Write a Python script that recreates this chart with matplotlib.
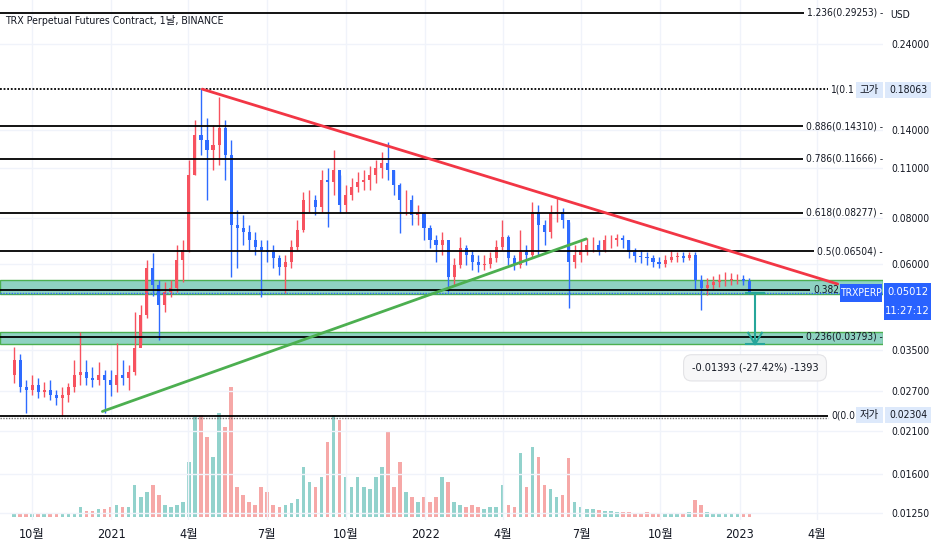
import numpy as np
import pandas as pd
import matplotlib
matplotlib.use('Agg')
import matplotlib.pyplot as plt
import matplotlib.dates as mdates
from matplotlib.patches import Rectangle
from matplotlib.ticker import FixedLocator, NullLocator

plt.rcParams['font.family'] = ['DejaVu Sans', 'Noto Sans CJK KR']
plt.rcParams['font.stretch'] = 'condensed'

# weekly candles (open = previous close)
week_start = pd.date_range('2020-09-07', periods=123, freq='7D')
first_open = 0.0298
close = [0.0328, 0.0277, 0.0271, 0.0280, 0.0268, 0.0271, 0.0263, 0.0258, 0.0263, 0.0276,
         0.0298, 0.0304, 0.0293, 0.0289, 0.0298, 0.0289, 0.0280, 0.0298, 0.0293, 0.0304,
         0.0354, 0.0435, 0.0584, 0.0526, 0.0463, 0.0503, 0.0516, 0.0615, 0.0655, 0.1051,
         0.1353, 0.1311, 0.1231, 0.1271, 0.1414, 0.1193, 0.0768, 0.0754, 0.0734, 0.0698,
         0.0668, 0.0655, 0.0647, 0.0623, 0.0588, 0.0607, 0.0668, 0.0743, 0.0898, 0.0898,
         0.0859, 0.1019, 0.1006, 0.1085, 0.0870, 0.0927, 0.0975, 0.1006, 0.1019, 0.1051,
         0.1099, 0.1134, 0.1085, 0.0987, 0.0898, 0.0898, 0.0817, 0.0828, 0.0754, 0.0698,
         0.0677, 0.0698, 0.0553, 0.0596, 0.0664, 0.0635, 0.0607, 0.0596, 0.0599, 0.0623,
         0.0668, 0.0712, 0.0623, 0.0596, 0.0647, 0.0635, 0.0833, 0.0768, 0.0734, 0.0828,
         0.0833, 0.0792, 0.0607, 0.0635, 0.0655, 0.0677, 0.0677, 0.0655, 0.0698, 0.0698,
         0.0707, 0.0698, 0.0647, 0.0631, 0.0627, 0.0623, 0.0607, 0.0599, 0.0615, 0.0627,
         0.0631, 0.0623, 0.0635, 0.0542, 0.0516, 0.0526, 0.0536, 0.0542, 0.0542, 0.0546,
         0.0546, 0.0539, 0.05012]
high = [0.0356, 0.0340, 0.0289, 0.0298, 0.0293, 0.0286, 0.0289, 0.0271, 0.0276, 0.0284,
        0.0328, 0.0391, 0.0328, 0.0314, 0.0324, 0.0308, 0.0308, 0.0365, 0.0328, 0.0318,
        0.0443, 0.0463, 0.0615, 0.0643, 0.0542, 0.0536, 0.0542, 0.0677, 0.0698, 0.1156,
        0.1487, 0.18063, 0.1507, 0.1441, 0.1716, 0.1487, 0.1311, 0.0843, 0.0817, 0.0768,
        0.0734, 0.0698, 0.0698, 0.0677, 0.0635, 0.0635, 0.0698, 0.0792, 0.0944, 0.0956,
        0.0927, 0.1085, 0.1099, 0.1231, 0.1051, 0.0987, 0.1032, 0.1071, 0.1085, 0.1113,
        0.1156, 0.1216, 0.1295, 0.1085, 0.1000, 0.0956, 0.0927, 0.0870, 0.0833, 0.0768,
        0.0721, 0.0734, 0.0698, 0.0623, 0.0712, 0.0677, 0.0655, 0.0635, 0.0635, 0.0647,
        0.0698, 0.0792, 0.0721, 0.0635, 0.0743, 0.0677, 0.0887, 0.0870, 0.0792, 0.0870,
        0.0915, 0.0854, 0.0782, 0.0677, 0.0698, 0.0707, 0.0712, 0.0698, 0.0721, 0.0721,
        0.0725, 0.0721, 0.0698, 0.0664, 0.0655, 0.0647, 0.0635, 0.0627, 0.0635, 0.0655,
        0.0647, 0.0647, 0.0647, 0.0647, 0.0560, 0.0549, 0.0556, 0.0563, 0.0570, 0.0567,
        0.0563, 0.0560, 0.0549]
low = [0.0284, 0.0268, 0.0235, 0.0263, 0.0258, 0.0260, 0.0255, 0.0247, 0.0230, 0.0252,
       0.0268, 0.0280, 0.0280, 0.0276, 0.0280, 0.0235, 0.0262, 0.0268, 0.0280, 0.0271,
       0.0298, 0.0361, 0.0426, 0.0491, 0.0372, 0.0443, 0.0488, 0.0503, 0.0536, 0.0647,
       0.1051, 0.1193, 0.0898, 0.1085, 0.1120, 0.1019, 0.0553, 0.0584, 0.0677, 0.0655,
       0.0635, 0.0488, 0.0607, 0.0584, 0.0560, 0.0500, 0.0584, 0.0655, 0.0734, 0.0833,
       0.0817, 0.0833, 0.0759, 0.0927, 0.0828, 0.0833, 0.0898, 0.0944, 0.0956, 0.0956,
       0.1000, 0.1032, 0.1019, 0.0927, 0.0730, 0.0817, 0.0768, 0.0768, 0.0698, 0.0664,
       0.0607, 0.0635, 0.0503, 0.0526, 0.0584, 0.0596, 0.0578, 0.0570, 0.0578, 0.0584,
       0.0607, 0.0655, 0.0596, 0.0578, 0.0584, 0.0596, 0.0623, 0.0635, 0.0677, 0.0707,
       0.0782, 0.0754, 0.0454, 0.0584, 0.0607, 0.0635, 0.0647, 0.0635, 0.0647, 0.0664,
       0.0672, 0.0664, 0.0623, 0.0607, 0.0603, 0.0596, 0.0588, 0.0584, 0.0588, 0.0607,
       0.0607, 0.0607, 0.0615, 0.0509, 0.0449, 0.0494, 0.0509, 0.0519, 0.0522, 0.0526,
       0.0529, 0.0526, 0.0497]
volume = [3, 3, 3, 3, 3, 3, 3, 3, 3, 3,
          4, 10, 6, 6, 8, 8, 10, 12, 10, 10,
          32, 20, 25, 32, 22, 12, 10, 12, 15, 55,
          100, 102, 80, 60, 104, 90, 130, 30, 22, 15,
          12, 30, 25, 12, 10, 12, 14, 18, 50, 35,
          30, 40, 75, 102, 97, 40, 30, 40, 30, 28,
          40, 50, 85, 30, 55, 25, 20, 15, 20, 15,
          20, 40, 35, 15, 12, 10, 12, 10, 8, 10,
          10, 32, 12, 10, 64, 30, 70, 60, 32, 28,
          20, 22, 59, 15, 10, 8, 8, 7, 6, 6,
          5, 5, 5, 4, 4, 5, 4, 4, 4, 4,
          4, 4, 5, 17, 12, 5, 3, 3, 3, 3,
          3, 3, 3]

fib_ratio = ['1.236', '1', '0.886', '0.786', '0.618', '0.5', '0.382', '0.236', '0']
fib_price = [0.29253, 0.18063, 0.14310, 0.11666, 0.08277, 0.06504, 0.05085, 0.03793, 0.02304]
# what stays visible of each label next to the price-axis badges
fib_label = ['1.236(0.29253) -', '1(0.1', '0.886(0.14310) -', '0.786(0.11666) -',
             '0.618(0.08277) -', '0.5(0.06504) -', '0.382', '0.236(0.03793) -', '0(0.0']

price_ticks = [0.24, 0.14, 0.11, 0.08, 0.06, 0.035, 0.027, 0.021, 0.016, 0.0125]
month_ticks = ['2020-10-01', '2021-01-01', '2021-04-01', '2021-07-01', '2021-10-01', '2022-01-01',
               '2022-04-01', '2022-07-01', '2022-10-01', '2023-01-01', '2023-04-01']
month_labels = ['10월', '2021', '4월', '7월', '10월', '2022', '4월', '7월', '10월', '2023', '4월']

last_price = 0.05012
hi_price = 0.18063
lo_price = 0.02304
zone_upper = (0.0497, 0.0542)
zone_lower = (0.0363, 0.0391)
red_trend_dates = ['2021-04-17', '2023-04-25']
red_trend_price = [0.18063, 0.0529]
green_trend_dates = ['2020-12-22', '2022-07-07']
green_trend_price = [0.0237, 0.0703]
measure_date = '2023-01-19'
measure_to = 0.03619
measure_text = '-0.01393 (-27.42%) -1393'

UP = '#f7525f'
DOWN = '#2e6bff'
TXT = '#131722'

W, H = 932, 550
fig = plt.figure(figsize=(W / 100, H / 100), dpi=100)
ax = fig.add_axes([0, 30 / H, 883 / W, 520 / H])
axv = ax.twinx()
ax.set_zorder(2)
axv.set_zorder(1)
ax.patch.set_visible(False)

x2021 = mdates.date2num(pd.Timestamp('2021-01-01'))
ax.set_xlim(x2021 - 111 / 0.861, x2021 + 772 / 0.861)
ax.set_yscale('log')
ax.set_ylim(0.01196, 0.3167)

# volume
xs = mdates.date2num(week_start) + 3.5
opens = np.array([first_open] + close[:-1])
closes = np.array(close)
up = closes >= opens
vcol = np.where(up, '#26a69a', '#ef5350')
axv.bar(xs, volume, width=4.2, color=vcol, alpha=0.5, lw=0)
axv.set_ylim(-3, 517)
axv.set_yticks([])
axv.tick_params(right=False, labelright=False)

# zones
for lo_, hi_ in [zone_upper, zone_lower]:
    ax.axhspan(lo_, hi_, facecolor='#8fd2c2', edgecolor='#4caf50', lw=1, zorder=1)

# candles
ccol = np.where(up, UP, DOWN)
ax.vlines(xs, low, high, colors=ccol, lw=1, zorder=4)
ax.bar(xs, np.abs(closes - opens), bottom=np.minimum(opens, closes), width=3.6,
       color=ccol, lw=0, zorder=5)

# axes styling
ax.yaxis.tick_right()
ax.yaxis.set_major_locator(FixedLocator(price_ticks))
ax.yaxis.set_minor_locator(NullLocator())
ax.set_yticklabels([f'{t:.5f}' for t in price_ticks])
ax.set_xticks(mdates.date2num(pd.to_datetime(month_ticks)))
ax.set_xticklabels(month_labels)
ax.tick_params(axis='y', length=0, pad=6, labelsize=7.5, labelcolor=TXT)
ax.tick_params(axis='x', length=0, pad=6, labelsize=9, labelcolor=TXT)
ax.grid(True, color='#f0f3fa', lw=1)
ax.set_axisbelow(True)
for a in (ax, axv):
    for s in a.spines.values():
        s.set_visible(False)

# fib labels, then lines up to each label
label_right = {'1': 855, '0.382': 839, '0': 855}
fib_texts = []
for r, p, lab in zip(fib_ratio, fib_price, fib_label):
    xr = label_right.get(r, 883) / 883
    t = ax.text(xr, p, lab, transform=ax.get_yaxis_transform(),
                ha='right', va='center', fontsize=7.3, color=TXT, zorder=6)
    fib_texts.append(t)
fig.canvas.draw()
renderer = fig.canvas.get_renderer()
inv = ax.transData.inverted()
xmin = ax.get_xlim()[0]
for r, p, t in zip(fib_ratio, fib_price, fib_texts):
    bb = t.get_window_extent(renderer)
    xend = inv.transform((bb.x0 - 3, 0))[0]
    if r == '1':
        ax.hlines(p, xmin, xend, colors='black', lw=1.3, linestyles=(0, (1, 1)), zorder=6)
    else:
        ax.hlines(p, xmin, xend, colors='black', lw=1.3, zorder=6)
    if r == '0':
        ax.hlines(p * 0.987, xmin, xend, colors='#777777', lw=1, linestyles=(0, (1, 1)), zorder=6)

ax.axhline(last_price, color=DOWN, lw=1, ls=(0, (1, 1)), zorder=6)

# trend lines
ax.plot(mdates.date2num(pd.to_datetime(red_trend_dates)), red_trend_price,
        color='#f23645', lw=2, zorder=7, solid_capstyle='round')
ax.plot(mdates.date2num(pd.to_datetime(green_trend_dates)), green_trend_price,
        color='#4caf50', lw=2, zorder=7, solid_capstyle='round')

# price range measure
mx = mdates.date2num(pd.Timestamp(measure_date))
mc = '#26a69a'
ax.plot([mx - 10, mx + 10], [last_price, last_price], color=mc, lw=1.5, zorder=8)
ax.plot([mx, mx], [last_price, measure_to], color=mc, lw=1.5, zorder=8)
ax.plot([mx - 10, mx + 10], [measure_to, measure_to], color=mc, lw=1.5, zorder=8)
ax.plot([mx - 8, mx, mx + 8], [measure_to * 1.075, measure_to, measure_to * 1.075],
        color=mc, lw=1.5, zorder=8)
ax.text(mx, 0.0312, measure_text, ha='center', va='center', fontsize=7.8, color=TXT, zorder=9,
        bbox=dict(boxstyle='round,pad=0.75', fc='#f7f7f8', ec='#e3e3e6', lw=0.8))


# right side badges (pixel boxes)
def badge(x0, y0, x1, y1, fc, lines, tc, fs=7.5):
    fig.add_artist(Rectangle((x0 / W, 1 - y1 / H), (x1 - x0) / W, (y1 - y0) / H,
                             transform=fig.transFigure, fc=fc, ec='none', zorder=10))
    n = len(lines)
    for k, s in enumerate(lines):
        yc = y0 + (y1 - y0) * (k + 0.5) / n
        fig.text((x0 + x1) / 2 / W, 1 - yc / H, s, ha='center', va='center',
                 fontsize=fs, color=tc, zorder=11)


badge(856, 82, 883, 98, '#dde9fb', ['고가'], TXT)
badge(885, 82, 931, 98, '#dde9fb', [f'{hi_price:.5f}'], TXT)
badge(856, 407, 883, 423, '#dde9fb', ['저가'], TXT)
badge(885, 407, 931, 423, '#dde9fb', [f'{lo_price:.5f}'], TXT)
badge(840, 284, 882, 302, '#2962ff', ['TRXPERP'], 'white')
badge(884, 283, 931, 320, '#2962ff', [f'{last_price:.5f}', '11:27:12'], 'white', fs=8)

fig.text(890 / W, 1 - 15 / H, 'USD', ha='left', va='center', fontsize=7.5, color=TXT)
fig.text(5 / W, 1 - 21 / H, 'TRX Perpetual Futures Contract, 1날, BINANCE',
         ha='left', va='center', fontsize=7.6, color=TXT)

fig.savefig('out.png', dpi=100, facecolor='white')
